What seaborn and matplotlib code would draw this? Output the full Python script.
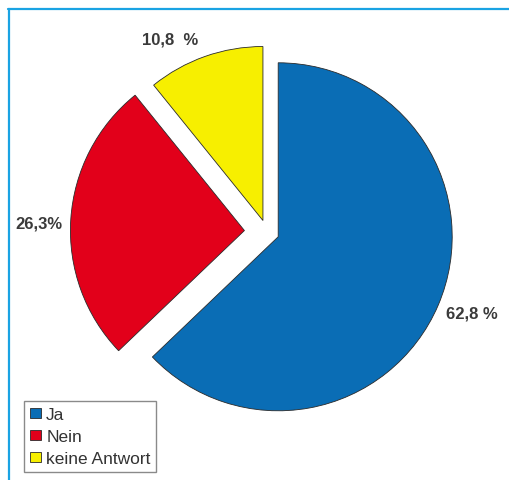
import matplotlib.pyplot as plt
import seaborn as sns

# survey answers, clockwise from 12 o'clock
categories = ["Ja", "Nein", "keine Antwort"]
shares = [62.8, 26.3, 10.8]
value_labels = ["62,8 %", "26,3%", "10,8  %"]

COLORS = ["#0A6DB5", "#E2001A", "#F7EF00"]
RADIUS = 174
# matplotlib's explode is an absolute offset, so scale by the radius
EXPLODE = [0.07 * RADIUS, 0.13 * RADIUS, 0.07 * RADIUS]
LABEL_POS = [(472, 167), (39, 257), (170, 441)]

W, H = 509, 481


def plot() -> None:
    sns.set_theme(style="white")
    plt.rcParams["font.family"] = ["Liberation Sans", "DejaVu Sans"]

    fig = plt.figure(figsize=(W / 100, H / 100), dpi=100)
    ax = fig.add_axes([0, 0, 1, 1])

    wedges, _ = ax.pie(
        shares,
        colors=COLORS,
        explode=EXPLODE,
        startangle=90,
        counterclock=False,
        center=(267, H - 233),
        radius=RADIUS,
        wedgeprops={"edgecolor": "#2a2a2a", "linewidth": 0.6},
    )

    for txt, (x, y) in zip(value_labels, LABEL_POS):
        ax.text(x, y, txt, ha="center", va="center", fontsize=12,
                fontweight="bold", color="#3a3a3a")

    # light blue frame, cropped on right and bottom
    ax.axhline(H - 10, xmin=8 / W, xmax=1, color="#1AA3E3", linewidth=1.6)
    ax.axvline(9, ymin=0, ymax=(H - 10) / H, color="#1AA3E3", linewidth=1.6)

    leg = ax.legend(
        wedges, categories,
        loc="upper left",
        bbox_to_anchor=(24 / W, 1 - 402 / H),
        bbox_transform=ax.transAxes,
        frameon=True, fancybox=False, framealpha=1,
        edgecolor="#8a8a8a",
        fontsize=12.5, handlelength=0.65, handleheight=0.5,
        handletextpad=0.3, labelspacing=0.42, borderpad=0.33,
        borderaxespad=0,
    )
    leg.get_frame().set_linewidth(1.0)
    for t in leg.get_texts():
        t.set_color("#333333")

    ax.set_xlim(0, W)
    ax.set_ylim(0, H)
    ax.set_aspect("equal")
    ax.axis("off")

    fig.savefig("out.png", dpi=100, facecolor="white")
    plt.close(fig)


if __name__ == "__main__":
    plot()
